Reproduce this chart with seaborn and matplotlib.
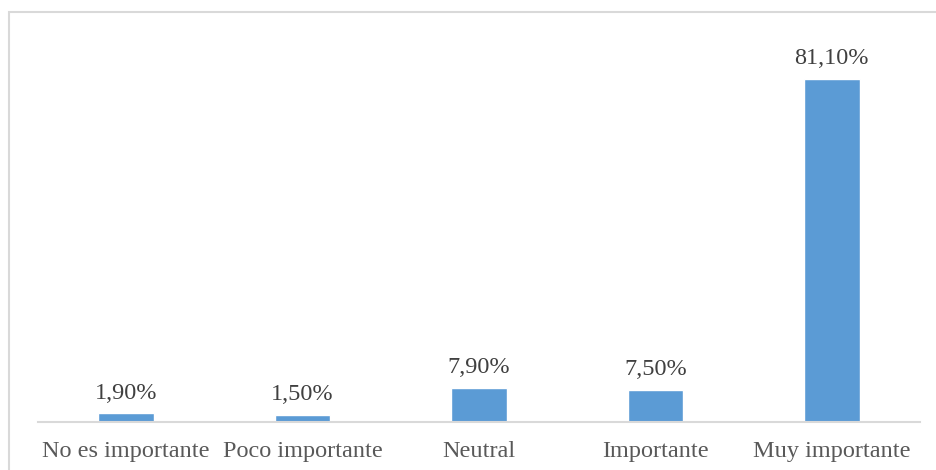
import matplotlib
matplotlib.use("Agg")
import matplotlib.pyplot as plt
import seaborn as sns
import pandas as pd
from matplotlib.patches import Rectangle

categories = ["No es importante", "Poco importante", "Neutral", "Importante", "Muy importante"]
values = [1.9, 1.5, 7.9, 7.5, 81.1]
labels = ["1,90%", "1,50%", "7,90%", "7,50%", "81,10%"]

sns.set_style("white")
plt.rcParams['font.family'] = ['Liberation Serif', 'DejaVu Serif']

W, H = 936, 470
fig = plt.figure(figsize=(W / 100, H / 100), dpi=100)
ax = fig.add_axes([38 / W, (H - 421.5) / H, (920 - 38) / W, (421.5 - 41.5) / H])

df = pd.DataFrame({"cat": categories, "val": values})
sns.barplot(data=df, x="cat", y="val", color="#5B9BD5", saturation=1, width=0.315, ax=ax)

ax.set_ylim(0, 90)
ax.set_xlim(-0.5, 4.5)
for i, (v, t) in enumerate(zip(values, labels)):
    ax.annotate(t, (i, v), xytext=(0, 7), textcoords="offset points",
                ha="center", va="bottom", fontsize=17.5, color="#404040")

ax.set_xlabel("")
ax.set_ylabel("")
ax.set_yticks([])
ax.tick_params(axis="x", length=0, pad=14, labelsize=17.5, labelcolor="#595959")
for s in ["top", "right", "left"]:
    ax.spines[s].set_visible(False)
ax.spines["bottom"].set_color("#D9D9D9")
ax.spines["bottom"].set_linewidth(1.5)

fig.patches.append(Rectangle((9 / W, -0.1), 1.2, (H - 12) / H + 0.1, transform=fig.transFigure,
                             fill=False, edgecolor="#D9D9D9", linewidth=1.5))

fig.savefig("out.png", dpi=100)
